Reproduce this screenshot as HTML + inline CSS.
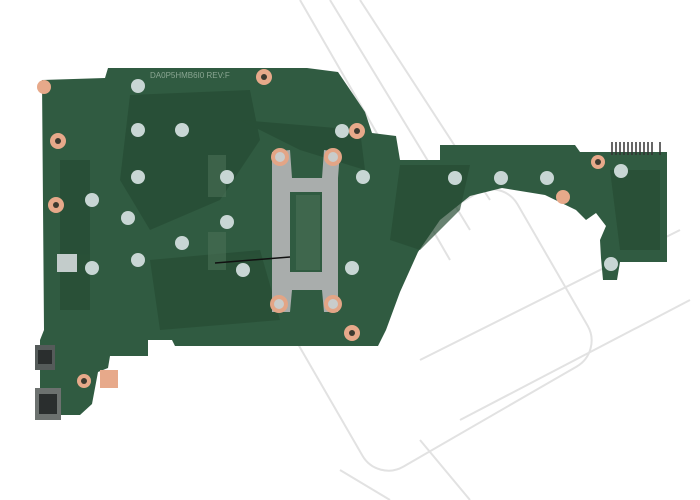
<!DOCTYPE html>
<html><head><style>
html,body{margin:0;padding:0;background:#fff;}
svg{display:block}
</style></head><body>
<svg width="700" height="500" viewBox="0 0 700 500" xmlns="http://www.w3.org/2000/svg">
<rect width="700" height="500" fill="#fff"/>
<g stroke="#e2e2e2" stroke-width="2" fill="none">
<path d="M300 0 L450 260 M330 0 L470 230 M360 0 L490 200 M420 360 L680 230 M460 420 L690 300"/>
<rect x="310" y="230" width="260" height="200" rx="30" transform="rotate(-30 440 330)"/>
<path d="M340 470 L390 500 M420 440 L470 500"/>
</g>
<path fill="#305b41" d="M42 80 L105 78 L108 68 L307 68 L338 72 L365 112 L372 133 L396 136 L400 160 L440 160 L440 145 L575 145 L580 152 L667 152 L667 262 L620 262 L617 280 L603 280 L601 258 L600 240 L606 226 L596 213 L586 220 L576 210 L545 195 L502 188 L470 196 L440 220 L418 252 L400 292 L386 330 L378 346 L175 346 L172 340 L148 340 L148 356 L110 356 L108 368 L98 372 L92 404 L80 415 L40 415 L40 340 L44 330 L42 80 Z"/>
<g fill="#264b33" opacity="0.7">
<path d="M130 95 L250 90 L260 140 L220 200 L150 230 L120 180 Z"/>
<path d="M240 120 L360 130 L365 170 L300 150 Z"/>
<path d="M150 260 L260 250 L280 320 L160 330 Z"/>
<path d="M400 165 L470 165 L460 210 L420 250 L390 240 Z"/>
<path d="M610 170 L660 170 L660 250 L620 250 Z"/>
<rect x="60" y="160" width="30" height="150"/>
</g>
<g fill="#4a6f55" opacity="0.6">
<rect x="208" y="155" width="18" height="42"/>
<rect x="208" y="232" width="18" height="38"/>
<rect x="296" y="195" width="24" height="75"/>
</g>
<path fill="#a9adac" fill-rule="evenodd" d="M272 152 L290 150 L292 178 L322 178 L324 150 L340 152 L338 178 L338 290 L338 312 L324 312 L322 290 L292 290 L290 312 L272 312 L272 290 L272 178 Z M290 192 L322 192 L322 272 L290 272 Z"/>
<g fill="#e3a586"><circle cx="280" cy="157" r="9"/><circle cx="333" cy="157" r="9"/><circle cx="279" cy="304" r="9"/><circle cx="333" cy="304" r="9"/></g>
<g fill="#c9cccb"><circle cx="280" cy="157" r="5"/><circle cx="333" cy="157" r="5"/><circle cx="279" cy="304" r="5"/><circle cx="333" cy="304" r="5"/></g>
<line x1="215" y1="263" x2="290" y2="257" stroke="#111" stroke-width="1.5"/>
<g fill="#c8d6d4">
<circle cx="138" cy="86" r="7"/><circle cx="138" cy="130" r="7"/><circle cx="182" cy="130" r="7"/>
<circle cx="138" cy="177" r="7"/><circle cx="92" cy="200" r="7"/><circle cx="128" cy="218" r="7"/>
<circle cx="227" cy="177" r="7"/><circle cx="182" cy="243" r="7"/><circle cx="227" cy="222" r="7"/>
<circle cx="138" cy="260" r="7"/><circle cx="92" cy="268" r="7"/><circle cx="243" cy="270" r="7"/>
<circle cx="352" cy="268" r="7"/><circle cx="363" cy="177" r="7"/><circle cx="342" cy="131" r="7"/>
<circle cx="455" cy="178" r="7"/><circle cx="501" cy="178" r="7"/><circle cx="547" cy="178" r="7"/>
<circle cx="621" cy="171" r="7"/><circle cx="611" cy="264" r="7"/>
</g>
<rect x="57" y="254" width="20" height="18" fill="#c3cccb"/>
<g fill="#e7a98a">
<circle cx="44" cy="87" r="7"/><circle cx="58" cy="141" r="8"/><circle cx="56" cy="205" r="8"/>
<circle cx="264" cy="77" r="8"/><circle cx="357" cy="131" r="8"/><circle cx="352" cy="333" r="8"/>
<circle cx="598" cy="162" r="7"/><circle cx="563" cy="197" r="7"/><circle cx="84" cy="381" r="7"/>
<rect x="100" y="370" width="18" height="18"/>
</g>
<g fill="#3d3a30"><circle cx="58" cy="141" r="3"/><circle cx="56" cy="205" r="3"/><circle cx="264" cy="77" r="3"/><circle cx="357" cy="131" r="3"/><circle cx="352" cy="333" r="3"/><circle cx="598" cy="162" r="3"/><circle cx="84" cy="381" r="3"/></g>
<rect x="35" y="345" width="20" height="25" fill="#555b5a"/>
<rect x="38" y="350" width="14" height="14" fill="#2a2e2e"/>
<rect x="35" y="388" width="26" height="32" fill="#6c716f"/>
<rect x="39" y="394" width="18" height="20" fill="#2a2e2e"/>
<g stroke="#333" stroke-width="1.5"><path d="M612 142 V155 M616 142 V155 M620 142 V155 M624 142 V155 M628 142 V155 M632 142 V155 M636 142 V155 M640 142 V155 M644 142 V155 M648 142 V155 M652 142 V155 M660 142 V155"/></g>
<text x="150" y="78" font-family="Liberation Sans, sans-serif" font-size="8" fill="#8aa692">DA0P5HMB6I0 REV:F</text>
</svg>
</body></html>
